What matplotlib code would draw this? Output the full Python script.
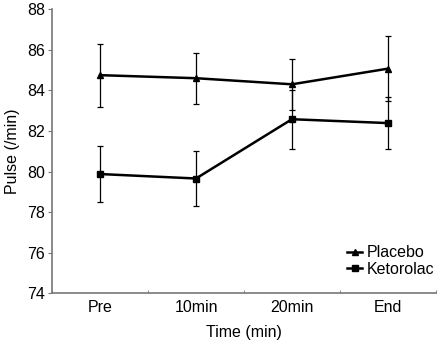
import matplotlib.pyplot as plt
from matplotlib.lines import Line2D
import numpy as np

plt.rcParams['font.family'] = ['Liberation Sans', 'DejaVu Sans']

categories = ["Pre", "10min", "20min", "End"]
placebo = [84.75, 84.6, 84.3, 85.07]
placebo_err = [1.55, 1.25, 1.26, 1.6]
ketorolac = [79.88, 79.66, 82.58, 82.39]
ketorolac_err = [1.36, 1.35, 1.46, 1.29]

x = np.arange(len(categories))

fig = plt.figure(figsize=(4.38, 3.40), dpi=100)
ax = fig.add_axes([0.119, 0.137, 0.876, 0.836])

ax.errorbar(x, placebo, yerr=placebo_err, color="black", lw=1.8, marker="^",
            ms=5, elinewidth=0.9, capsize=2.5, capthick=0.9)
ax.errorbar(x, ketorolac, yerr=ketorolac_err, color="black", lw=1.8, marker="s",
            ms=4.5, elinewidth=0.9, capsize=2.5, capthick=0.9)

ax.set_xlim(-0.5, 3.5)
ax.set_ylim(74, 88)
ax.set_yticks(np.arange(74, 89, 2))
ax.set_xticks(x)
ax.set_xticklabels(categories)
ax.set_xticks(np.arange(-0.5, 4, 1), minor=True)
ax.tick_params(axis="x", which="major", length=0, labelsize=11.5, pad=5)
ax.tick_params(axis="x", which="minor", length=2.5, direction="in", color="#777777")
ax.tick_params(axis="y", length=3, labelsize=11.5, color="#777777", pad=2)

for side in ["top", "right"]:
    ax.spines[side].set_visible(False)
for side in ["left", "bottom"]:
    ax.spines[side].set_color("#777777")
    ax.spines[side].set_linewidth(1.2)

ax.set_xlabel("Time (min)", fontsize=11.5, labelpad=7)
ax.set_ylabel("Pulse (/min)", fontsize=11.5, labelpad=5)

handles = [
    Line2D([], [], color="black", lw=1.8, marker="^", ms=5),
    Line2D([], [], color="black", lw=1.8, marker="s", ms=4.5),
]
ax.legend(handles, ["Placebo", "Ketorolac"], loc="lower right",
          bbox_to_anchor=(1.0, 0.053), frameon=False, fontsize=11.5,
          handlelength=0.9, handletextpad=0.3, labelspacing=0.1,
          borderpad=0.1, borderaxespad=0.0)

fig.savefig("out.png", dpi=100)
